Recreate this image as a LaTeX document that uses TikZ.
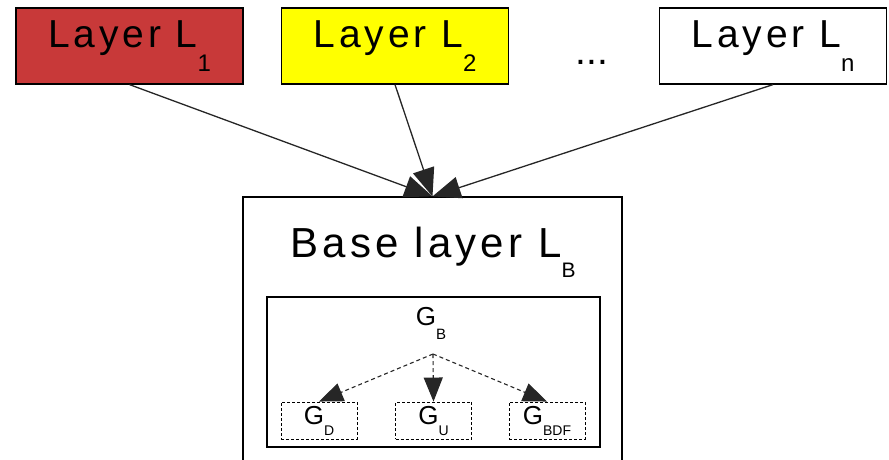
\documentclass[tikz,border=0pt]{standalone}
\usepackage{fontspec}
\setmainfont{Liberation Sans}
\usetikzlibrary{arrows.meta}
\definecolor{layerred}{RGB}{200,57,57}
\definecolor{layeryellow}{RGB}{255,255,0}
% lowered index: #1 drop, #2 font size, #3 text
\newcommand{\lowsub}[3]{\raisebox{-#1}{\fontsize{#2}{#2}\selectfont #3}}
\begin{document}
\begin{tikzpicture}[x=1pt,y=-1pt,
  layerbox/.style={draw=black, line width=1.2pt, minimum width=227pt,
    minimum height=76pt, inner sep=0pt,
    font=\fontsize{39}{39}\selectfont\addfontfeature{LetterSpace=10}},
  framebox/.style={draw=black, line width=1.2pt, inner sep=0pt},
  graphbox/.style={draw=black, line width=0.9pt, dash pattern=on 3pt off 2pt,
    minimum width=76pt, minimum height=37pt, inner sep=0pt,
    font=\fontsize{26}{26}\selectfont},
  toparrow/.style={draw=black!85, line width=1.3pt,
    -{Triangle[length=28pt,width=22pt]}},
  dasharrow/.style={draw=black!85, line width=1.1pt, dash pattern=on 4pt off 3pt,
    -{Triangle[length=24pt,width=19pt]}}]
\useasboundingbox (0,0) rectangle (889,459);
\clip (0,0) rectangle (889,459);

% layers on top
\node[layerbox, fill=layerred]    (l1) at (129.5,46) {Layer L\lowsub{24pt}{24}{1}};
\node[layerbox, fill=layeryellow] (l2) at (395,46)   {Layer L\lowsub{24pt}{24}{2}};
\node[layerbox, fill=white]       (ln) at (773,46)   {Layer L\lowsub{24pt}{24}{n}};
\node[anchor=base, inner sep=0pt, font=\fontsize{39}{39}\selectfont] (dots) at (592,64) {...};

% base layer frame (runs past the bottom edge)
\node[framebox, minimum width=379pt, minimum height=273pt] (base) at (432.5,333.5) {};
\node[anchor=base, inner sep=0pt,
  font=\fontsize{42}{42}\selectfont\addfontfeature{LetterSpace=10}] (title) at (433,257)
  {Base layer L\lowsub{20pt}{21}{B}};

% graph hierarchy inside the base layer
\node[framebox, minimum width=333pt, minimum height=150pt] (inner) at (433.5,372) {};
\node[anchor=base, inner sep=0pt, font=\fontsize{26}{26}\selectfont] (gb) at (431,325)
  {G\lowsub{14pt}{15}{B}};
\coordinate (split) at (433,354);
\node[graphbox] (gd)   at (319,420.5) {G\lowsub{11pt}{14}{D}};
\node[graphbox] (gu)   at (433.5,420.5) {G\lowsub{11pt}{14}{U}};
\node[graphbox] (gbdf) at (547,420.5) {G\lowsub{11pt}{14}{BDF}};

% connectors
\draw[toparrow] (l1.south) -- (base.north);
\draw[toparrow] (l2.south) -- (base.north);
\draw[toparrow] (ln.south) -- (base.north);
\draw[dasharrow] (split) -- (gd.north);
\draw[dasharrow] (split) -- (gu.north);
\draw[dasharrow] (split) -- (gbdf.north);
\end{tikzpicture}
\end{document}
